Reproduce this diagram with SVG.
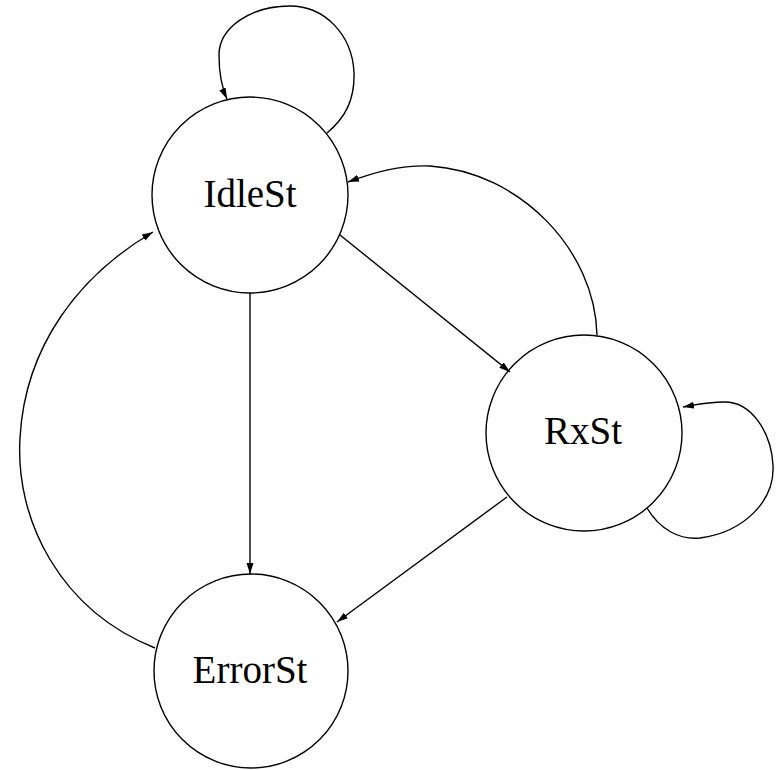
<svg xmlns="http://www.w3.org/2000/svg" width="780" height="770" viewBox="0 0 780 770">
<style>
.node{fill:#fff;stroke:#000;stroke-width:1.4}
.lbl{font-family:"Liberation Serif","Times New Roman",serif;font-size:39px;fill:#000;text-anchor:middle}
.edge{fill:none;stroke:#000;stroke-width:1.4;marker-end:url(#ah)}
</style>
<defs>
<marker id="ah" markerUnits="userSpaceOnUse" markerWidth="12" markerHeight="8" refX="11" refY="4" orient="auto">
<path d="M0,0.5 L11,4 L0,7.5 z" fill="#000"/>
</marker>
</defs>
<rect width="780" height="770" fill="#fff"/>
<g id="IdleSt"><circle class="node" cx="250" cy="195" r="98"/><text class="lbl" x="250" y="207">IdleSt</text></g>
<g id="RxSt"><circle class="node" cx="584" cy="433" r="98"/><text class="lbl" x="583" y="444">RxSt</text></g>
<g id="ErrorSt"><circle class="node" cx="251" cy="671" r="97"/><text class="lbl" x="250" y="683">ErrorSt</text></g>
<g id="connectors">
<path class="edge" d="M327,133 C345,118 355,100 354,72 C352,35 325,6 290,6 C250,6 219,28 219,55 C219,75 222,88 227,99"/>
<path class="edge" d="M597,335 C595,250 520,172 430,166 C400,165 375,172 348,182"/>
<path class="edge" d="M340,235 L510,372"/>
<path class="edge" d="M250,293 L250,574"/>
<path class="edge" d="M507,497 L337,622"/>
<path class="edge" d="M155,648 C60,610 15,520 20,438 C25,345 80,275 153,232"/>
<path class="edge" d="M647,508 C660,530 680,540 700,538 C745,532 775,500 773,465 C771,430 750,402 725,402 C705,402 695,405 683,407"/>
</g>
</svg>
